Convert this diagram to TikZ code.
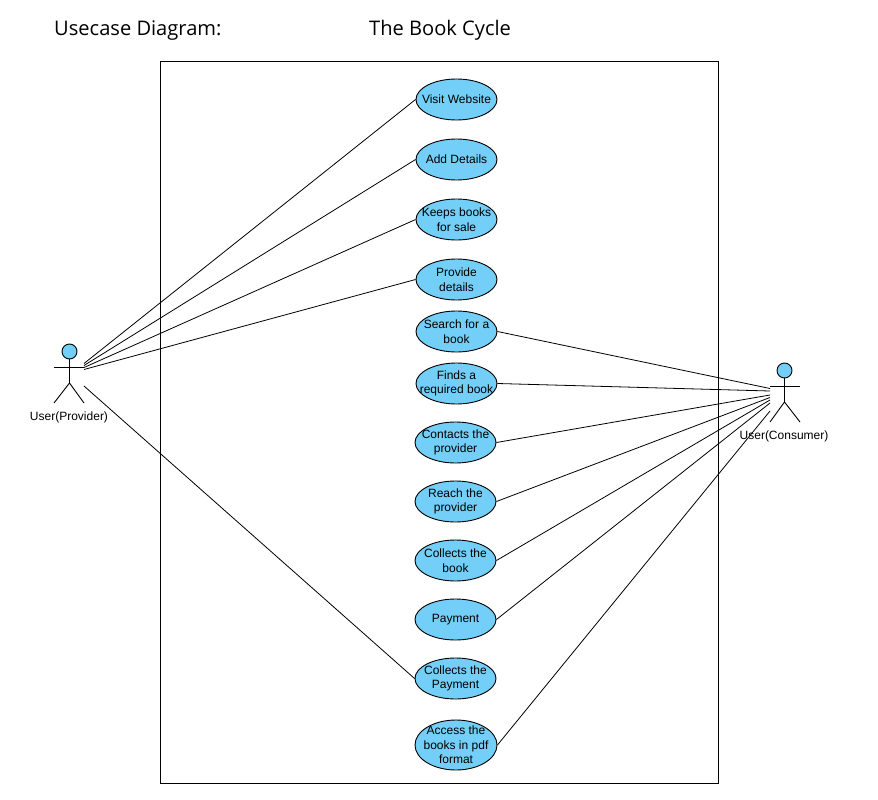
\documentclass[tikz,border=0pt]{standalone}
\usepackage{fontspec}
\setmainfont{Liberation Sans}
\newfontfamily\titlefont{Open Sans}
\definecolor{ucfill}{HTML}{73CFF7}
\usetikzlibrary{shapes.geometric}
\tikzset{
  x=1pt,y=-1pt,
  caselabel/.style={inner sep=0pt,align=center,font=\fontsize{12}{14.7}\selectfont,text=black},
  usecase/.style={ellipse,draw=black,fill=ucfill,line width=0.9pt,inner sep=0pt,minimum width=81pt,minimum height=41pt,label={[caselabel]center:{#1}}},
  tallcase/.style={usecase={#1},minimum width=82pt,minimum height=50pt},
  head/.style={circle,draw=black,fill=ucfill,line width=0.9pt,inner sep=0pt,minimum size=15pt},
  actorlabel/.style={inner sep=0pt,font=\fontsize{12}{14}\selectfont},
  titletext/.style={inner sep=0pt,anchor=base west,font=\titlefont\fontsize{20.1}{24}\selectfont},
  link/.style={draw=black,line width=0.8pt},
  stick/.style={draw=black,line width=0.9pt}
}
\begin{document}
\begin{tikzpicture}
\useasboundingbox (0,0) rectangle (878,800);
\fill[white] (0,0) rectangle (878,800);
\node[titletext] (t1) at (54,35.5) {Usecase Diagram:};
\node[titletext] (t2) at (369,35.5) {The Book Cycle};
\node[draw=black,line width=0.9pt,minimum width=558pt,minimum height=722pt,inner sep=0pt] (sys) at (439.5,422.5) {};

\node[usecase={Visit Website}] (u1) at (456.5,99.5) {};
\node[usecase={Add Details}] (u2) at (456.5,159.5) {};
\node[usecase={Keeps books\\for sale}] (u3) at (456.5,219.5) {};
\node[usecase={Provide\\details}] (u4) at (456.5,279.5) {};
\node[usecase={Search for a\\book}] (u5) at (456.5,331.5) {};
\node[usecase={Finds a\\required book}] (u6) at (456.5,383.5) {};
\node[usecase={Contacts the\\provider}] (u7) at (455.5,442.5) {};
\node[usecase={Reach the\\provider}] (u8) at (455.5,501.5) {};
\node[usecase={Collects the\\book}] (u9) at (455.5,560.5) {};
\node[usecase={Payment}] (u10) at (455.5,619.5) {};
\node[usecase={Collects the\\Payment}] (u11) at (455.5,678.5) {};
\node[tallcase={Access the\\books in pdf\\format}] (u12) at (456,745) {};

% provider actor
\node[head] (pH) at (69.5,351.5) {};
\coordinate (pN) at (69.5,383);
\draw[stick] (pH) -- (pN);
\coordinate (pL) at (54,367.5);
\coordinate (pR) at (84,367.5);
\draw[stick] (pL) -- (pR);
\coordinate (pF1) at (54,403);
\coordinate (pF2) at (84,403);
\draw[stick] (pF1) -- (pN) -- (pF2);
\node[actorlabel] (pT) at (69,417.5) {User(Provider)};
% consumer actor
\node[head] (cH) at (784.5,370.5) {};
\coordinate (cN) at (784.5,402);
\draw[stick] (cH) -- (cN);
\coordinate (cL) at (770,386);
\coordinate (cR) at (800,386);
\draw[stick] (cL) -- (cR);
\coordinate (cF1) at (770,422);
\coordinate (cF2) at (800,422);
\draw[stick] (cF1) -- (cN) -- (cF2);
\node[actorlabel] (cT) at (784,436) {User(Consumer)};

% provider ends
\coordinate (p1) at (84,363.5);
\coordinate (p2) at (84,365.5);
\coordinate (p3) at (84,367.5);
\coordinate (p4) at (84,369.5);
\coordinate (p5) at (84,386);
\draw[link] (p1) -- (u1.west);
\draw[link] (p2) -- (u2.west);
\draw[link] (p3) -- (u3.west);
\draw[link] (p4) -- (u4.west);
\draw[link] (p5) -- (u11.west);
% consumer ends
\coordinate (c5) at (770,388.5);
\coordinate (c6) at (770,391);
\coordinate (c7) at (770,395);
\coordinate (c8) at (770,397.5);
\coordinate (c9) at (770,400);
\coordinate (c10) at (770,403);
\coordinate (c12) at (770,411);
\draw[link] (u5.east) -- (c5);
\draw[link] (u6.east) -- (c6);
\draw[link] (u7.east) -- (c7);
\draw[link] (u8.east) -- (c8);
\draw[link] (u9.east) -- (c9);
\draw[link] (u10.east) -- (c10);
\draw[link] (u12.east) -- (c12);
\end{tikzpicture}
\end{document}
